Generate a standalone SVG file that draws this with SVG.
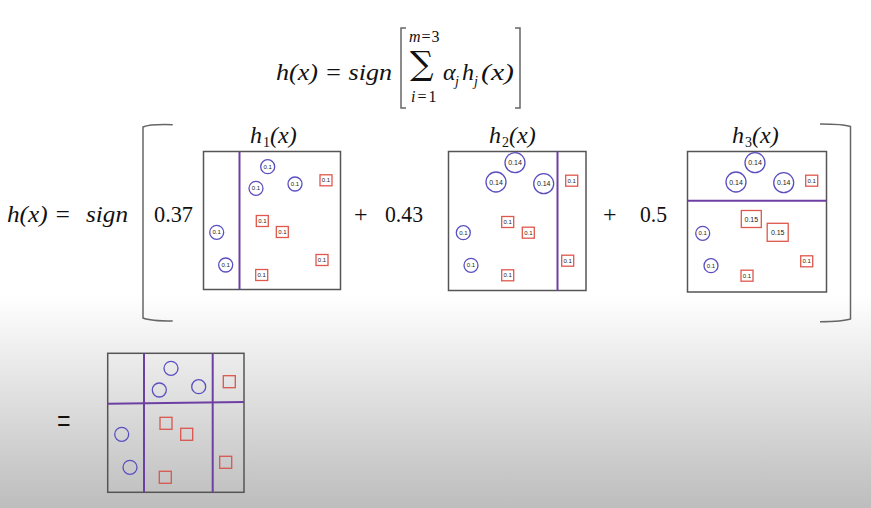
<svg xmlns="http://www.w3.org/2000/svg" width="871" height="508" viewBox="0 0 871 508">
<defs>
<linearGradient id="bg" gradientUnits="userSpaceOnUse" x1="0" y1="0" x2="0" y2="508">
<stop offset="0" stop-color="#ffffff"/>
<stop offset="0.58" stop-color="#ffffff"/>
<stop offset="1" stop-color="#bdbdbd"/>
</linearGradient>
</defs>
<style>
.math{font-family:"Liberation Serif","DejaVu Serif",serif;font-style:italic;font-size:24px;fill:#111}
.num{font-family:"Liberation Serif","DejaVu Serif",serif;font-size:24px;fill:#111}
.sub{font-size:14px}
.lim{font-size:16px}
.box{fill:#fff;stroke:#555;stroke-width:1.5}
.box2{fill:none;stroke:#555;stroke-width:1.5}
.split{stroke:#6e3fa3;stroke-width:2;fill:none}
.c{fill:#fff;stroke:#5a4fc0;stroke-width:1.3}
.s{fill:#fff;stroke:#e0574d;stroke-width:1.3}
.c2{fill:none;stroke:#5a4fc0;stroke-width:1.3}
.s2{fill:none;stroke:#d9574d;stroke-width:1.3}
.l{font-family:"Liberation Sans","DejaVu Sans",sans-serif;font-size:6px;text-anchor:middle;fill:#222}
.l2{font-family:"Liberation Sans","DejaVu Sans",sans-serif;font-size:7px;text-anchor:middle;fill:#222}
.br{fill:none;stroke:#666;stroke-width:1.5}
</style>
<rect x="0" y="0" width="871" height="508" fill="url(#bg)"/>

<g id="formula-top">
<text class="math" x="276" y="80" textLength="116" lengthAdjust="spacingAndGlyphs">h(x) = sign</text>
<path class="br" d="M406,28 L401,28 L401,108 L406,108"/>
<text class="math"><tspan class="lim" x="409" y="42" letter-spacing="1">m<tspan font-style="normal">=3</tspan></tspan><tspan x="410" y="74.5" font-family="DejaVu Serif, serif" font-style="normal" style="font-size:33px">∑</tspan><tspan class="lim" x="411" y="102" letter-spacing="2">i<tspan font-style="normal">=1</tspan></tspan></text>
<text class="math" x="443" y="80">α</text>
<text class="math sub" x="455" y="86">j</text>
<text class="math" x="462" y="80">h</text>
<text class="math sub" x="474" y="86">j</text>
<text class="math" x="481" y="80" textLength="33" lengthAdjust="spacingAndGlyphs">(x)</text>
<path class="br" d="M515,28 L520,28 L520,108 L515,108"/>
</g>

<g id="formula-left">
<text class="math" x="7" y="222" textLength="64" lengthAdjust="spacingAndGlyphs">h(x) =</text>
<text class="math" x="86" y="222" textLength="42" lengthAdjust="spacingAndGlyphs">sign</text>
<path class="br" d="M172.7,124.7 Q150,124 143,127 L143,318 Q150,321 172.7,321"/>
<path class="br" d="M820,124 Q843,124 850.5,126.5 L850.5,319 Q843,321.5 820,321.7"/>
<text class="num" x="154" y="222" textLength="39" lengthAdjust="spacingAndGlyphs">0.37</text>
<text class="num" x="354" y="222">+</text>
<text class="num" x="385" y="222" textLength="38" lengthAdjust="spacingAndGlyphs">0.43</text>
<text class="num" x="603" y="222">+</text>
<text class="num" x="640" y="222" textLength="27" lengthAdjust="spacingAndGlyphs">0.5</text>
</g>

<g id="h1">
<text class="math"><tspan x="250" y="143">h</tspan><tspan x="263" y="147" class="sub" font-style="normal">1</tspan><tspan x="270" y="143">(x)</tspan></text>
<rect class="box" x="203.5" y="151.5" width="137" height="138"/>
<line class="split" x1="239.5" y1="151.5" x2="239.5" y2="289.5"/>
<circle class="c" cx="267.7" cy="166.7" r="7"/><text class="l" x="267.7" y="168.8">0.1</text>
<circle class="c" cx="256" cy="188.3" r="7"/><text class="l" x="256" y="190.4">0.1</text>
<circle class="c" cx="295" cy="184" r="7"/><text class="l" x="295" y="186.1">0.1</text>
<circle class="c" cx="216.7" cy="232.3" r="7"/><text class="l" x="216.7" y="234.4">0.1</text>
<circle class="c" cx="225.7" cy="265" r="7"/><text class="l" x="225.7" y="267.1">0.1</text>
<rect class="s" x="320" y="174.8" width="12" height="11"/><text class="l" x="326" y="182.4">0.1</text>
<rect class="s" x="256.3" y="215.5" width="12" height="11"/><text class="l" x="262.3" y="223.1">0.1</text>
<rect class="s" x="276.3" y="226.5" width="12" height="11"/><text class="l" x="282.3" y="234.1">0.1</text>
<rect class="s" x="316" y="254.5" width="12" height="11"/><text class="l" x="322" y="262.1">0.1</text>
<rect class="s" x="255.7" y="269.5" width="12" height="11"/><text class="l" x="261.7" y="277.1">0.1</text>
</g>

<g id="h2">
<text class="math"><tspan x="489" y="143">h</tspan><tspan x="502" y="147" class="sub" font-style="normal">2</tspan><tspan x="509" y="143">(x)</tspan></text>
<rect class="box" x="448.5" y="151.5" width="137.5" height="139"/>
<line class="split" x1="557.5" y1="151.5" x2="557.5" y2="290.5"/>
<circle class="c" cx="515" cy="162.7" r="10"/><text class="l2" x="515" y="165.2">0.14</text>
<circle class="c" cx="496" cy="182" r="10"/><text class="l2" x="496" y="184.5">0.14</text>
<circle class="c" cx="543.7" cy="183.7" r="10"/><text class="l2" x="543.7" y="186.2">0.14</text>
<circle class="c" cx="463.3" cy="232.7" r="7"/><text class="l" x="463.3" y="234.8">0.1</text>
<circle class="c" cx="471" cy="265.3" r="7"/><text class="l" x="471" y="267.4">0.1</text>
<rect class="s" x="565.7" y="175.2" width="12" height="11"/><text class="l" x="571.7" y="182.8">0.1</text>
<rect class="s" x="501.7" y="216.5" width="12" height="11"/><text class="l" x="507.7" y="224.1">0.1</text>
<rect class="s" x="522.3" y="227.2" width="12" height="11"/><text class="l" x="528.3" y="234.8">0.1</text>
<rect class="s" x="561.7" y="255.2" width="12" height="11"/><text class="l" x="567.7" y="262.8">0.1</text>
<rect class="s" x="501.7" y="269.8" width="12" height="11"/><text class="l" x="507.7" y="277.4">0.1</text>
</g>

<g id="h3">
<text class="math"><tspan x="732" y="143">h</tspan><tspan x="745" y="147" class="sub" font-style="normal">3</tspan><tspan x="752" y="143">(x)</tspan></text>
<rect class="box" x="687.5" y="151.5" width="139" height="140.5"/>
<line class="split" x1="687.5" y1="200.7" x2="826.5" y2="200.7"/>
<circle class="c" cx="755" cy="162.7" r="10"/><text class="l2" x="755" y="165.2">0.14</text>
<circle class="c" cx="736" cy="182" r="10"/><text class="l2" x="736" y="184.5">0.14</text>
<circle class="c" cx="783.7" cy="182.7" r="10"/><text class="l2" x="783.7" y="185.2">0.14</text>
<circle class="c" cx="702.7" cy="233.3" r="7"/><text class="l" x="702.7" y="235.4">0.1</text>
<circle class="c" cx="711" cy="265.7" r="7"/><text class="l" x="711" y="267.8">0.1</text>
<rect class="s" x="805.7" y="175.2" width="12" height="11"/><text class="l" x="811.7" y="182.8">0.1</text>
<rect class="s" x="741.3" y="210.5" width="20" height="17"/><text class="l2" x="751.3" y="221.5">0.15</text>
<rect class="s" x="767.2" y="223.3" width="21" height="18"/><text class="l2" x="777.7" y="234.8">0.15</text>
<rect class="s" x="800.7" y="255.8" width="12" height="11"/><text class="l" x="806.7" y="263.4">0.1</text>
<rect class="s" x="741" y="270.2" width="12" height="11"/><text class="l" x="747" y="277.8">0.1</text>
</g>

<g id="result">
<text class="num" transform="translate(57,434) scale(1,1.6)" font-size="22">=</text>
<rect class="box2" x="107.7" y="353.3" width="136.3" height="139"/>
<line class="split" x1="144" y1="353.3" x2="144" y2="492.3"/>
<line class="split" x1="212.7" y1="353.3" x2="212.7" y2="492.3"/>
<line class="split" x1="107.7" y1="403.7" x2="244" y2="402"/>
<circle class="c2" cx="171" cy="368.3" r="7"/>
<circle class="c2" cx="159.3" cy="390" r="7"/>
<circle class="c2" cx="198.7" cy="386.7" r="7"/>
<circle class="c2" cx="121.7" cy="434.3" r="7"/>
<circle class="c2" cx="130" cy="467.3" r="7"/>
<rect class="s2" x="223.3" y="375.7" width="12" height="12"/>
<rect class="s2" x="160" y="417.3" width="12" height="12"/>
<rect class="s2" x="180.7" y="428.3" width="12" height="12"/>
<rect class="s2" x="219.7" y="456.3" width="12" height="12"/>
<rect class="s2" x="159.3" y="471.3" width="12" height="12"/>
</g>
<g id="connectors"/>
</svg>
